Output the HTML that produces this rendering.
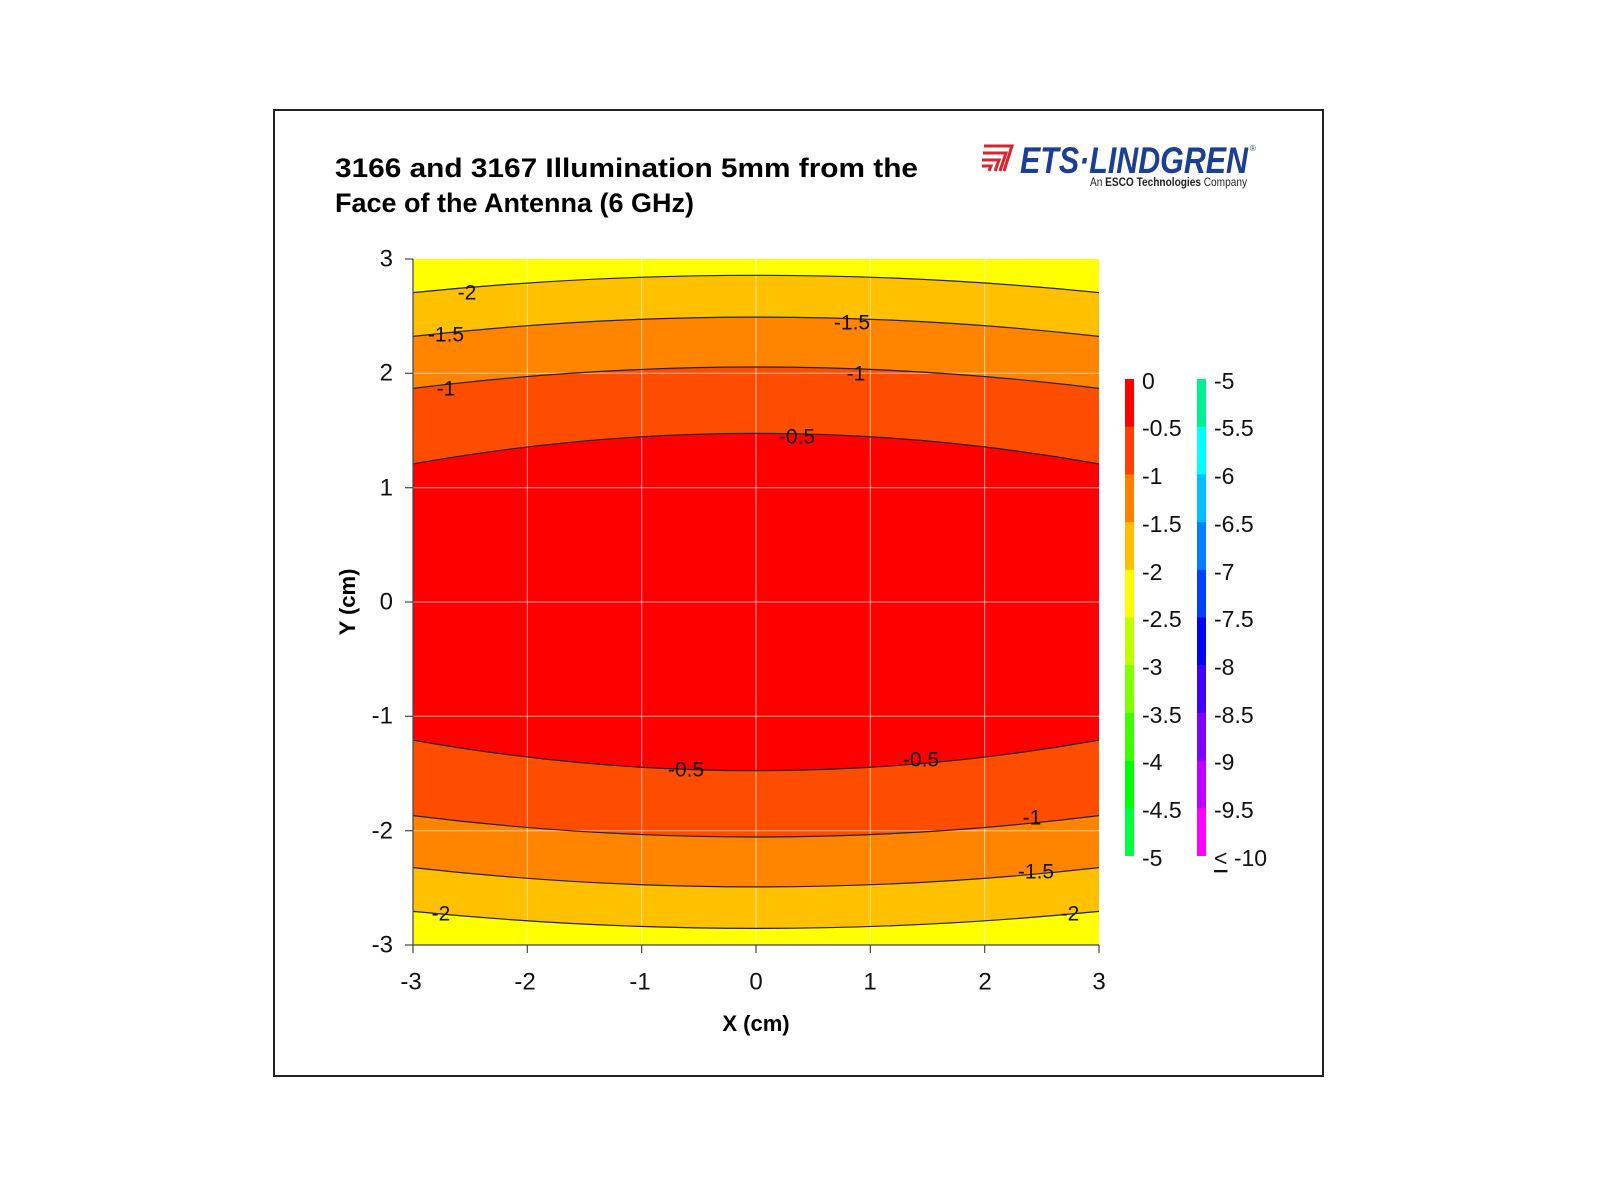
<!DOCTYPE html>
<html><head><meta charset="utf-8"><style>
html,body{margin:0;padding:0;background:#fff;}
svg{display:block;}
text{font-family:"Liberation Sans",Arial,sans-serif;}
</style></head><body>
<svg width="1600" height="1200" viewBox="0 0 1600 1200" xmlns="http://www.w3.org/2000/svg">
<rect x="0" y="0" width="1600" height="1200" fill="#fff"/>
<rect x="274" y="110" width="1049" height="966" fill="#fff" stroke="#222" stroke-width="2"/>
<text x="335" y="177" font-size="27" font-weight="bold" textLength="583" lengthAdjust="spacingAndGlyphs">3166 and 3167 Illumination 5mm from the</text>
<text x="335" y="212" font-size="27" font-weight="bold">Face of the Antenna (6 GHz)</text>
<g fill="none" stroke="#d9232e" stroke-width="3">
<path d="M984,146 L1012,146 L1004,171"/>
<path d="M983,153 L1006,153 L1000,171"/>
<path d="M982,160 L999,160 L995,171"/>
<path d="M982,166 L991,166 L989,171"/>
</g>
<text x="1020" y="173" font-size="37" font-weight="bold" font-style="italic" fill="#1b3f94" textLength="228" lengthAdjust="spacingAndGlyphs">ETS·LINDGREN</text>
<text x="1250" y="151" font-size="8" fill="#1b3f94">®</text>
<text x="1090" y="186" font-size="12" fill="#222" textLength="157" lengthAdjust="spacingAndGlyphs">An <tspan font-weight="bold">ESCO Technologies</tspan> Company</text>
<defs><clipPath id="c"><rect x="413" y="259" width="686" height="686"/></clipPath></defs>
<g clip-path="url(#c)">
<rect x="413" y="259" width="686" height="686" fill="#ffff00"/>
<path d="M413,292.6 Q756,258 1099,292.6 L1099,911.4 Q756,945.4 413,911.4 Z" fill="#ffc000"/>
<path d="M413,336.4 Q756,297.8 1099,336.4 L1099,867.6 Q756,906.2 413,867.6 Z" fill="#ff8400"/>
<path d="M413,388.4 Q756,345.6 1099,388.4 L1099,815.6 Q756,858.4 413,815.6 Z" fill="#ff4d00"/>
<path d="M413,463.9 Q756,402.7 1099,463.9 L1099,740.1 Q756,801.3 413,740.1 Z" fill="#ff0000"/>
<g stroke="#fff" stroke-opacity="0.6" stroke-width="1">
<line x1="527.3" y1="259" x2="527.3" y2="945"/><line x1="641.7" y1="259" x2="641.7" y2="945"/><line x1="756" y1="259" x2="756" y2="945"/><line x1="870.3" y1="259" x2="870.3" y2="945"/><line x1="984.7" y1="259" x2="984.7" y2="945"/>
<line x1="413" y1="373.3" x2="1099" y2="373.3"/><line x1="413" y1="487.7" x2="1099" y2="487.7"/><line x1="413" y1="602" x2="1099" y2="602"/><line x1="413" y1="716.3" x2="1099" y2="716.3"/><line x1="413" y1="830.7" x2="1099" y2="830.7"/>
</g>
<g fill="none" stroke="#222" stroke-width="1.2">
<path d="M413,292.6 Q756,258 1099,292.6"/><path d="M413,911.4 Q756,945.4 1099,911.4"/>
<path d="M413,336.4 Q756,297.8 1099,336.4"/><path d="M413,867.6 Q756,906.2 1099,867.6"/>
<path d="M413,388.4 Q756,345.6 1099,388.4"/><path d="M413,815.6 Q756,858.4 1099,815.6"/>
<path d="M413,463.9 Q756,402.7 1099,463.9"/><path d="M413,740.1 Q756,801.3 1099,740.1"/>
</g>
</g>
<g font-size="21" fill="#111" text-anchor="middle" dominant-baseline="central">
<text x="467" y="293">-2</text><text x="446" y="335">-1.5</text><text x="446" y="389">-1</text>
<text x="797" y="437">-0.5</text><text x="852" y="323">-1.5</text><text x="856" y="374">-1</text>
<text x="686" y="770">-0.5</text><text x="921" y="760">-0.5</text><text x="1032" y="818">-1</text>
<text x="1036" y="872">-1.5</text><text x="441" y="914">-2</text><text x="1070" y="914">-2</text>
</g>
<g stroke="#444" stroke-width="1.2">
<line x1="413" y1="259" x2="413" y2="945"/><line x1="413" y1="945" x2="1099" y2="945"/>
<line x1="405" y1="259" x2="413" y2="259"/><line x1="405" y1="373.3" x2="413" y2="373.3"/><line x1="405" y1="487.7" x2="413" y2="487.7"/><line x1="405" y1="602" x2="413" y2="602"/><line x1="405" y1="716.3" x2="413" y2="716.3"/><line x1="405" y1="830.7" x2="413" y2="830.7"/><line x1="405" y1="945" x2="413" y2="945"/>
<line x1="413" y1="945" x2="413" y2="953"/><line x1="527.3" y1="945" x2="527.3" y2="953"/><line x1="641.7" y1="945" x2="641.7" y2="953"/><line x1="756" y1="945" x2="756" y2="953"/><line x1="870.3" y1="945" x2="870.3" y2="953"/><line x1="984.7" y1="945" x2="984.7" y2="953"/><line x1="1099" y1="945" x2="1099" y2="953"/>
</g>
<g font-size="24" fill="#111" text-anchor="end" dominant-baseline="central">
<text x="393" y="259">3</text><text x="393" y="373">2</text><text x="393" y="488">1</text><text x="393" y="602">0</text><text x="393" y="716">-1</text><text x="393" y="831">-2</text><text x="393" y="945">-3</text>
</g>
<g font-size="24" fill="#111" text-anchor="middle" dominant-baseline="central">
<text x="411" y="982">-3</text><text x="525" y="982">-2</text><text x="640" y="982">-1</text><text x="756" y="982">0</text><text x="870" y="982">1</text><text x="985" y="982">2</text><text x="1099" y="982">3</text>
</g>
<text x="756" y="1031" font-size="22" font-weight="bold" text-anchor="middle">X (cm)</text>
<text transform="translate(355,602) rotate(-90)" font-size="22" font-weight="bold" text-anchor="middle">Y (cm)</text>
<g>
<rect x="1125" y="379" width="9" height="48" fill="#ff0000"/>
<rect x="1125" y="426.7" width="9" height="48" fill="#ff4000"/>
<rect x="1125" y="474.4" width="9" height="48" fill="#ff8000"/>
<rect x="1125" y="522.1" width="9" height="48" fill="#ffbf00"/>
<rect x="1125" y="569.8" width="9" height="48" fill="#ffff00"/>
<rect x="1125" y="617.5" width="9" height="48" fill="#bfff00"/>
<rect x="1125" y="665.2" width="9" height="48" fill="#80ff00"/>
<rect x="1125" y="712.9" width="9" height="48" fill="#40ff00"/>
<rect x="1125" y="760.6" width="9" height="48" fill="#00ff00"/>
<rect x="1125" y="808.3" width="9" height="47.7" fill="#00ff40"/>
<rect x="1197" y="379" width="9" height="48" fill="#00f090"/>
<rect x="1197" y="426.7" width="9" height="48" fill="#00ffff"/>
<rect x="1197" y="474.4" width="9" height="48" fill="#00bfff"/>
<rect x="1197" y="522.1" width="9" height="48" fill="#0080ff"/>
<rect x="1197" y="569.8" width="9" height="48" fill="#0040ff"/>
<rect x="1197" y="617.5" width="9" height="48" fill="#0000ff"/>
<rect x="1197" y="665.2" width="9" height="48" fill="#4000ff"/>
<rect x="1197" y="712.9" width="9" height="48" fill="#8000ff"/>
<rect x="1197" y="760.6" width="9" height="48" fill="#bf00ff"/>
<rect x="1197" y="808.3" width="9" height="47.7" fill="#ff00ff"/>
</g>
<g font-size="23" fill="#111" dominant-baseline="central">
<text x="1142" y="381">0</text><text x="1142" y="428">-0.5</text><text x="1142" y="476">-1</text><text x="1142" y="524">-1.5</text><text x="1142" y="572">-2</text><text x="1142" y="619">-2.5</text><text x="1142" y="667">-3</text><text x="1142" y="715">-3.5</text><text x="1142" y="762">-4</text><text x="1142" y="810">-4.5</text><text x="1142" y="858">-5</text>
<text x="1214" y="381">-5</text><text x="1214" y="428">-5.5</text><text x="1214" y="476">-6</text><text x="1214" y="524">-6.5</text><text x="1214" y="572">-7</text><text x="1214" y="619">-7.5</text><text x="1214" y="667">-8</text><text x="1214" y="715">-8.5</text><text x="1214" y="762">-9</text><text x="1214" y="810">-9.5</text><text x="1214" y="858"><tspan text-decoration="underline">&lt;</tspan> -10</text>
</g>
</svg>
</body></html>
